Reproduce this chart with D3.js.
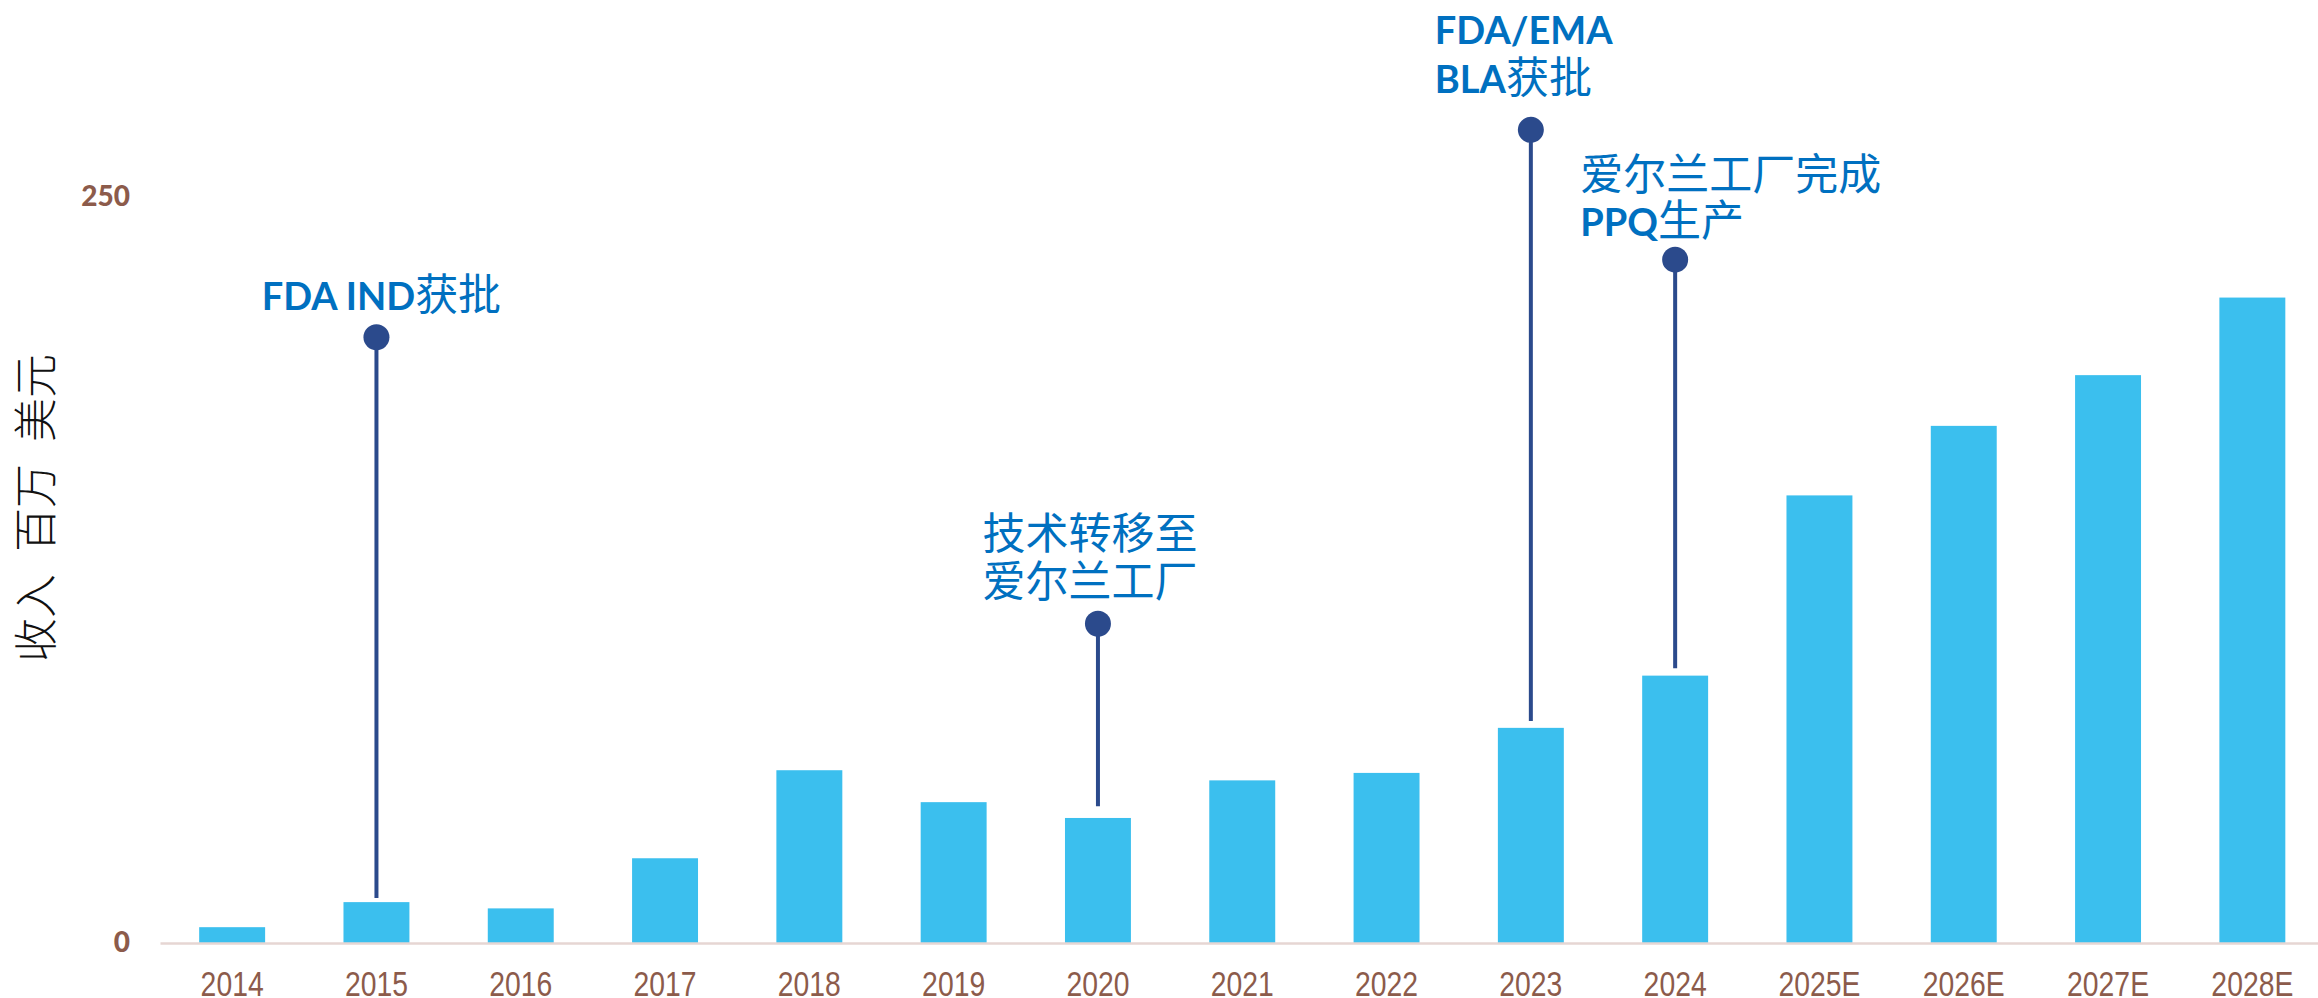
<!DOCTYPE html>
<html>
<head>
<meta charset="utf-8">
<script src="https://cdn.jsdelivr.net/npm/d3@7"></script>
<style>
  body { margin: 0; background: #fff; }
  .chart svg { display: block; }
</style>
</head>
<body>
<div class="chart"></div>
<script>
// revenue bars with milestone pins

var years = ["2014", "2015", "2016", "2017", "2018", "2019", "2020", "2021", "2022", "2023", "2024", "2025E", "2026E", "2027E", "2028E"];
var revenue = [5.3, 13.7, 11.6, 28.4, 57.9, 47.2, 41.9, 54.5, 57.0, 72.1, 89.6, 150.0, 173.3, 190.3, 216.3];
var yTicks = [0, 250];
var yTitle = "收入\u2002百万\u2002美元";

var milestoneYears = ["2015", "2020", "2023", "2024"];
var milestoneDot = [203, 107, 272.5, 229];
var milestoneStemEnd = [15.1, 45.8, 74.4, 92.1];
var milestoneText = [
    ["FDA IND获批"],
    ["技术转移至", "爱尔兰工厂"],
    ["FDA/EMA", "BLA获批"],
    ["爱尔兰工厂完成", "PPQ生产"]
];

// where each label sits relative to its pin
var labelLayout = [
    { anchor: "middle", dx: 5, dy: [-27] },
    { anchor: "middle", dx: -8, dy: [-75, -27] },
    { anchor: "start", dx: -96, dy: [-86, -37] },
    { anchor: "start", dx: -95, dy: [-70, -24] }
];

var svgWidth = 2318;
var svgHeight = 998;
var baseY = 943;
var topY = 197;
var leftX = 160;

var barColor = "#3BBFEE";
var pinColor = "#2B4A8C";
var labelColor = "#0070C0";
var tickColor = "#8C5B4B";

var svg = d3.select(".chart")
    .append("svg")
    .attr("width", svgWidth)
    .attr("height", svgHeight);

svg.append("rect")
    .attr("width", svgWidth)
    .attr("height", svgHeight)
    .attr("fill", "#fff");

var x = d3.scaleBand()
    .domain(years)
    .range([leftX, leftX + 144.3 * years.length])
    .paddingInner(0.543)
    .paddingOuter(0.2715);

var y = d3.scaleLinear()
    .domain([0, 250])
    .range([baseY, topY]);

// bars
svg.append("g")
    .selectAll("rect")
    .data(revenue)
    .enter()
    .append("rect")
    .attr("x", function(d, i) { return x(years[i]); })
    .attr("y", function(d) { return y(d); })
    .attr("width", x.bandwidth())
    .attr("height", function(d) { return y(0) - y(d); })
    .attr("fill", barColor);

// x axis
var xAxis = svg.append("g")
    .attr("transform", "translate(0," + baseY + ")")
    .call(d3.axisBottom(x).tickSize(0).tickSizeOuter(0).tickPadding(28));

xAxis.select(".domain")
    .attr("stroke", "#E6D6D3")
    .attr("stroke-width", 2.5);

xAxis.selectAll("text")
    .attr("fill", tickColor)
    .style("font-family", "'Liberation Sans', sans-serif")
    .style("font-size", "35px")
    .each(function() {
        // squeeze to look like a narrow face
        var len = this.getComputedTextLength();
        d3.select(this)
            .attr("textLength", len * 0.81)
            .attr("lengthAdjust", "spacingAndGlyphs");
    });

// y axis, labels only
var yAxis = svg.append("g")
    .attr("transform", "translate(" + leftX + ",0)")
    .call(d3.axisLeft(y).tickValues(yTicks).tickSize(0).tickPadding(30).tickFormat(d3.format("d")));

yAxis.select(".domain").remove();

yAxis.selectAll("text")
    .attr("fill", tickColor)
    .style("font-family", "Lato, 'Open Sans', sans-serif")
    .style("font-weight", 900)
    .style("font-size", "28px");

svg.append("text")
    .attr("transform", "translate(52,508) rotate(-90)")
    .attr("text-anchor", "middle")
    .style("font-family", "'Noto Sans CJK SC', sans-serif")
    .style("font-weight", 300)
    .style("font-size", "44px")
    .style("white-space", "pre")
    .attr("fill", "#111")
    .text(yTitle);

// milestone pins
var pins = svg.append("g");

milestoneYears.forEach(function(yr, i) {
    var cx = x(yr) + x.bandwidth() / 2;
    var cy = y(milestoneDot[i]);

    pins.append("line")
        .attr("x1", cx)
        .attr("x2", cx)
        .attr("y1", cy)
        .attr("y2", y(milestoneStemEnd[i]))
        .attr("stroke", pinColor)
        .attr("stroke-width", 4);

    pins.append("circle")
        .attr("cx", cx)
        .attr("cy", cy)
        .attr("r", 13)
        .attr("fill", pinColor);

    var lay = labelLayout[i];
    milestoneText[i].forEach(function(line, j) {
        var t = pins.append("text")
            .attr("x", cx + lay.dx)
            .attr("y", cy + lay.dy[j])
            .attr("text-anchor", lay.anchor)
            .attr("fill", labelColor);

        // latin bits bold, chinese bits regular
        var parts = line.match(/[\u4e00-\u9fff]+|[^\u4e00-\u9fff]+/g);
        parts.forEach(function(p) {
            var cjk = /[\u4e00-\u9fff]/.test(p);
            t.append("tspan")
                .style("font-family", cjk ? "'Noto Sans CJK SC', sans-serif" : "Lato, 'Open Sans', sans-serif")
                .style("font-weight", cjk ? "normal" : "bold")
                .style("font-size", cjk ? "43px" : "38px")
                .style("white-space", "pre")
                .text(p);
        });
    });
});
</script>
</body>
</html>
